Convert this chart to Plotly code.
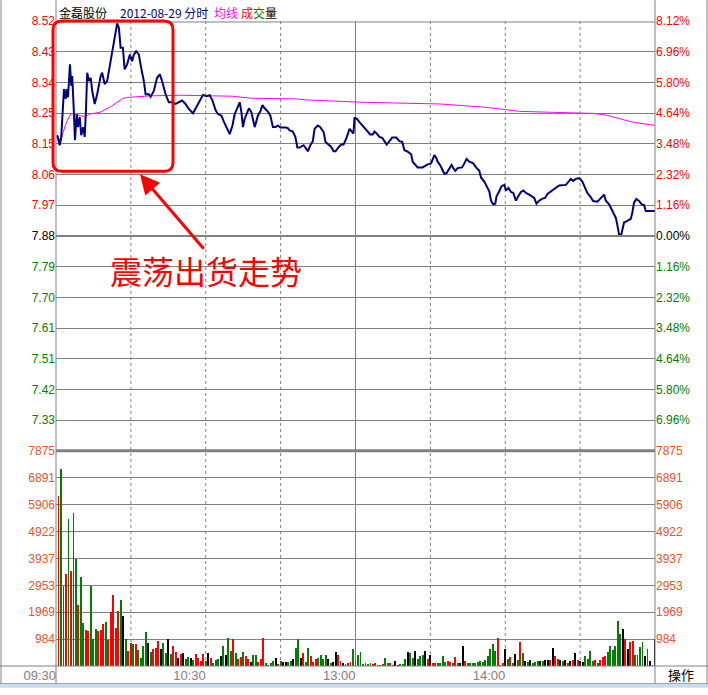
import plotly.graph_objects as go

# ---------------- data ----------------
stock_name = "金磊股份"
trade_date = "2012-08-29"
prev_close = 7.88
max_price = 8.52

price_tick_labels = ["8.52", "8.43", "8.34", "8.25", "8.15", "8.06", "7.97", "7.88",
                     "7.79", "7.70", "7.61", "7.51", "7.42", "7.33"]
pct_tick_labels = ["8.12%", "6.96%", "5.80%", "4.64%", "3.48%", "2.32%", "1.16%", "0.00%",
                   "1.16%", "2.32%", "3.48%", "4.64%", "5.80%", "6.96%"]
vol_tick_vals = [7875, 6891, 5906, 4922, 3937, 2953, 1969, 984]
vol_tick_labels = ["7875", "6891", "5906", "4922", "3937", "2953", "1969", "984"]
time_tick_mins = [0, 60, 120, 180]
time_tick_labels = ["09:30", "10:30", "13:00", "14:00"]
grid_mins_dotted = [30, 60, 90, 150, 180, 210]
grid_min_solid = [120]

# minute index (0 = 09:30, 120 = 11:30/13:00, 240 = 15:00) and price
price_min = [0.5, 1.5, 2.1, 2.5, 3.2, 3.9, 4.3, 4.8, 5.6, 6.1, 6.5, 7.2, 7.6, 8.3, 8.8, 9.5, 10.1, 10.9, 11.5, 12.0,
             12.5, 13.2, 13.9, 14.5, 15.5, 16.5, 17.9, 18.5, 19.5, 20.5, 21.2, 21.9, 22.9, 23.9, 24.5, 25.2, 25.9, 26.8,
             27.5, 28.5, 29.6, 30.5, 31.2, 32.1, 33.2, 34.1, 35.2, 35.9, 37.2, 37.9, 39.2, 40.5, 41.6, 42.5, 43.9, 45.2,
             46.5, 47.9, 49.6, 50.5, 51.9, 53.2, 54.9, 56.5, 57.9, 58.9, 60.3, 61.6, 62.7, 64.0, 64.9, 66.3, 67.2, 68.3,
             69.6, 70.7, 71.6, 72.5, 73.6, 74.3, 74.9, 75.6, 76.3, 77.3, 78.3, 79.6, 80.9, 82.0, 82.7, 83.6, 84.9, 85.9,
             86.9, 88.0, 88.9, 89.9, 92.0, 92.9, 93.6, 94.9, 95.9, 96.7, 97.6, 99.2, 100.0, 100.9, 101.9, 102.9, 103.6,
             104.9, 105.9, 107.2, 108.0, 108.9, 110.3, 111.2, 112.0, 113.3, 114.3, 115.2, 116.3, 117.6, 118.5, 119.2,
             119.6, 120.5, 121.6, 122.7, 124.0, 124.9, 125.9, 126.9, 127.6, 128.5, 129.6, 130.7, 131.6, 132.5, 133.6,
             134.7, 136.3, 137.6, 138.7, 139.6, 140.9, 142.3, 142.9, 144.0, 144.9, 146.9, 148.9, 150.3, 151.6, 152.3,
             152.9, 153.9, 154.9, 155.6, 156.5, 157.6, 158.5, 159.2, 160.0, 160.9, 162.7, 163.6, 164.5, 165.6, 167.2,
             168.3, 169.6, 170.3, 171.6, 172.9, 173.6, 174.3, 175.2, 176.0, 176.5, 177.6, 178.5, 179.6, 180.3, 181.3,
             182.3, 183.2, 184.3, 185.2, 186.3, 187.3, 188.3, 189.6, 190.9, 191.6, 192.5, 193.6, 194.9, 196.0, 196.9,
             198.3, 199.2, 200.5, 201.6, 204.3, 205.3, 206.3, 207.2, 208.3, 209.6, 210.9, 212.3, 212.9, 214.3, 215.2,
             216.9, 218.3, 219.6, 220.3, 221.6, 222.3, 223.2, 224.3, 224.9, 225.6, 226.5, 227.2, 227.6, 228.9, 230.3,
             230.9, 231.6, 232.5, 233.6, 234.7, 235.6, 236.3, 240.0]
price_val = [8.180, 8.150, 8.175, 8.243, 8.317, 8.288, 8.317, 8.293, 8.391, 8.327, 8.356, 8.243, 8.165, 8.243, 8.204,
             8.234, 8.180, 8.204, 8.175, 8.253, 8.366, 8.341, 8.351, 8.312, 8.273, 8.302, 8.356, 8.366, 8.332, 8.341,
             8.371, 8.405, 8.440, 8.479, 8.513, 8.499, 8.440, 8.440, 8.376, 8.391, 8.420, 8.400, 8.420, 8.430, 8.420,
             8.381, 8.341, 8.302, 8.302, 8.294, 8.312, 8.351, 8.361, 8.341, 8.302, 8.278, 8.278, 8.273, 8.281, 8.283,
             8.273, 8.258, 8.245, 8.268, 8.288, 8.300, 8.296, 8.299, 8.283, 8.253, 8.243, 8.238, 8.221, 8.201, 8.183,
             8.209, 8.243, 8.258, 8.278, 8.248, 8.204, 8.229, 8.243, 8.260, 8.248, 8.204, 8.238, 8.253, 8.270, 8.260,
             8.250, 8.238, 8.204, 8.204, 8.209, 8.203, 8.203, 8.201, 8.194, 8.191, 8.175, 8.143, 8.143, 8.150, 8.142,
             8.132, 8.150, 8.162, 8.199, 8.209, 8.204, 8.190, 8.160, 8.155, 8.145, 8.132, 8.132, 8.145, 8.152, 8.152,
             8.170, 8.199, 8.190, 8.185, 8.231, 8.229, 8.219, 8.209, 8.199, 8.191, 8.182, 8.182, 8.191, 8.185, 8.175,
             8.172, 8.162, 8.152, 8.162, 8.173, 8.173, 8.162, 8.160, 8.135, 8.131, 8.123, 8.101, 8.091, 8.084, 8.084,
             8.093, 8.096, 8.121, 8.113, 8.101, 8.091, 8.077, 8.065, 8.067, 8.082, 8.091, 8.082, 8.074, 8.082, 8.084,
             8.096, 8.109, 8.101, 8.096, 8.084, 8.074, 8.054, 8.042, 8.023, 8.013, 7.985, 7.974, 7.976, 7.998, 8.013,
             8.028, 8.032, 8.015, 8.023, 8.011, 8.008, 7.985, 7.998, 8.011, 8.015, 8.008, 8.003, 7.995, 7.993, 7.976,
             7.985, 7.991, 7.993, 8.005, 8.013, 8.018, 8.023, 8.030, 8.032, 8.042, 8.050, 8.044, 8.050, 8.052, 8.042,
             8.018, 8.008, 7.995, 7.984, 7.982, 7.993, 8.003, 7.985, 7.974, 7.964, 7.949, 7.934, 7.913, 7.884, 7.884,
             7.910, 7.920, 7.925, 7.931, 7.949, 7.979, 7.990, 7.984, 7.974, 7.972, 7.954, 7.954]

avg_min = [0.5, 1.9, 2.9, 4.3, 5.9, 7.2, 9.6, 11.6, 13.6, 17.6, 21.6, 24.3, 26.9, 29.6, 37.6, 49.6, 59.6, 70.6,
           78.3, 96.3, 100.3, 110.3, 122.9, 140.9, 153.6, 172.3, 185.6, 198.9, 214.9, 220.3, 225.6, 230.9, 240.0]
avg_val = [8.180, 8.160, 8.190, 8.220, 8.243, 8.245, 8.238, 8.236, 8.243, 8.248, 8.263, 8.278, 8.290, 8.293, 8.297,
           8.299, 8.298, 8.296, 8.290, 8.288, 8.285, 8.281, 8.278, 8.275, 8.273, 8.263, 8.251, 8.248, 8.245, 8.240,
           8.229, 8.219, 8.209]

# volume per minute (minute 1..240)
volume = [6245, 7210, 2935, 3358, 5380, 3477, 5620, 3935, 2250, 3260,
          1590, 1311, 1275, 2935, 1010, 1372, 1275, 1336, 1552, 1614,
          950, 1975, 2600, 1408, 2033, 2419, 1852, 1011, 552, 856,
          805, 805, 589, 289, 733, 1264, 866, 505, 614, 650,
          928, 614, 866, 469, 1011, 445, 733, 530, 289, 433,
          469, 253, 350, 289, 229, 433, 289, 205, 433, 205,
          469, 289, 108, 229, 253, 373, 746, 409, 1047, 554,
          1011, 469, 253, 350, 505, 373, 253, 169, 409, 409,
          144, 253, 1047, 108, 48, 132, 205, 289, 84, 205,
          169, 169, 169, 205, 253, 650, 1011, 289, 469, 169,
          650, 373, 169, 253, 289, 409, 253, 409, 253, 132,
          169, 505, 409, 205, 108, 72, 132, 169, 626, 205,
          409, 505, 84, 108, 84, 108, 84, 132, 48, 48,
          84, 313, 108, 108, 48, 205, 48, 72, 72, 253,
          530, 469, 289, 566, 253, 373, 409, 554, 253, 409,
          132, 132, 132, 132, 373, 169, 205, 169, 132, 325,
          132, 108, 734, 205, 120, 120, 120, 120, 144, 180,
          144, 217, 385, 626, 806, 565, 1023, 60, 120, 626,
          265, 337, 120, 445, 217, 878, 481, 180, 144, 217,
          120, 144, 180, 180, 180, 217, 217, 217, 662, 385,
          265, 217, 180, 217, 120, 180, 217, 481, 217, 180,
          144, 385, 265, 541, 180, 217, 120, 217, 337, 361,
          517, 746, 577, 746, 1660, 1167, 1347, 986, 626, 902,
          938, 421, 421, 698, 902, 361, 626, 180, 60, 986]
# direction of each minute: r = up (red), g = down (green), k = flat (black)
direction = list("rgrrgrggrg" "grrgggrrrg" "rrrrrgkgrr" "grggggkgrr" "rkggkgrrkr"
                 "kggkgrrrrg" "krgggkgkgg" "rgrrgrrkgg" "rrrggggkrg" "kkggkggkrg"
                 "grrrggggkg" "kkrrkrrrgr" "ggggggrrgg" "rggrrkkggg" "kggkgggkrk"
                 "rrggggrrgr" "gkkrgggggg" "ggggggrrrk" "grgkgrgkgk" "gggkgkkrkr"
                 "rkgkrkrkrk" "kggggrgrrr" "ggggggkrkr" "rggggkgkgk")

# ---------------- helpers ----------------
W, H = 708, 695
L, R, T, B = 56, 53, 21, 22
PW, PH = W - L - R, H - T - B


def px(x):
    return (x - L) / PW


def py(y):
    return (H - B - y) / PH


step = (max_price - prev_close) / 7
price_tick_vals = [prev_close + k * step for k in range(7, -7, -1)]
lo_price = prev_close - 7 * step

RED, GREEN, BLACK = "#FF0000", "#008000", "#000000"
left_text, right_text = [], []
for k, a, b in zip(range(7, -7, -1), price_tick_labels, pct_tick_labels):
    c = RED if k > 0 else (BLACK if k == 0 else GREEN)
    left_text.append(f"<span style='color:{c}'>{a}</span>")
    right_text.append(f"<span style='color:{c}'>{b}</span>")

col_map = {"r": RED, "g": GREEN, "k": BLACK}
bar_colors = [col_map[d] for d in direction]
vol_min = list(range(1, len(volume) + 1))

fig = go.Figure()
fig.add_trace(go.Bar(x=vol_min, y=volume, xaxis="x", yaxis="y2", width=0.38,
                     marker=dict(color=bar_colors, line=dict(width=0)), hoverinfo="skip"))
fig.add_trace(go.Scatter(x=avg_min, y=avg_val, xaxis="x", yaxis="y", mode="lines",
                         line=dict(color="#FF00FF", width=1), hoverinfo="skip"))
fig.add_trace(go.Scatter(x=price_min, y=price_val, xaxis="x", yaxis="y", mode="lines",
                         line=dict(color="#000080", width=2), hoverinfo="skip"))
fig.add_trace(go.Scatter(x=[0], y=[prev_close], xaxis="x", yaxis="y3", mode="markers",
                         marker=dict(opacity=0), hoverinfo="skip"))
fig.add_trace(go.Scatter(x=[0], y=[0], xaxis="x", yaxis="y4", mode="markers",
                         marker=dict(opacity=0), hoverinfo="skip"))

GRID = "#808080"
NUMFONT = dict(family="Liberation Sans, Arial, sans-serif", size=12)
VOLFONT = dict(family="Liberation Sans, Arial, sans-serif", size=12, color="#F05028")
dom_split = py(455.5)

fig.update_layout(
    width=W, height=H, margin=dict(l=L, r=R, t=T, b=B, pad=0),
    paper_bgcolor="white", plot_bgcolor="white", showlegend=False, bargap=0,
    xaxis=dict(range=[0, 240], anchor="y2", showgrid=False, zeroline=False, showline=False,
               tickvals=time_tick_mins, ticktext=time_tick_labels, ticks="", ticklabelposition="outside left",
               tickfont=dict(family="Liberation Sans, Arial, sans-serif", size=13, color="#808080")),
    yaxis=dict(domain=[dom_split, 1], range=[lo_price, max_price], tickvals=price_tick_vals, ticktext=left_text,
               showgrid=True, gridcolor=GRID, gridwidth=1, zeroline=False, showline=False, ticks="",
               tickfont=NUMFONT),
    yaxis3=dict(overlaying="y", side="right", range=[lo_price, max_price], tickvals=price_tick_vals,
                ticktext=right_text, showgrid=False, zeroline=False, showline=False, ticks="",
                tickfont=NUMFONT, anchor="x"),
    yaxis2=dict(domain=[0, dom_split], range=[0, 7875], tickvals=vol_tick_vals, ticktext=vol_tick_labels,
                showgrid=True, gridcolor=GRID, gridwidth=1, zeroline=False, showline=False, ticks="",
                tickfont=VOLFONT),
    yaxis4=dict(overlaying="y2", side="right", range=[0, 7875], tickvals=vol_tick_vals, ticktext=vol_tick_labels,
                showgrid=False, zeroline=False, showline=False, ticks="", anchor="x", tickfont=VOLFONT),
)

shapes = []
for m in grid_mins_dotted:
    shapes.append(dict(type="line", xref="x", yref="paper", x0=m, x1=m, y0=0, y1=1,
                       line=dict(color=GRID, width=1, dash="dot"), layer="below"))
for m in grid_min_solid:
    shapes.append(dict(type="line", xref="x", yref="paper", x0=m, x1=m, y0=0, y1=1,
                       line=dict(color=GRID, width=1), layer="below"))
shapes.append(dict(type="line", xref="paper", yref="y", x0=0, x1=1, y0=prev_close, y1=prev_close,
                   line=dict(color=GRID, width=2)))
shapes.append(dict(type="line", xref="paper", yref="paper", x0=0, x1=1, y0=dom_split, y1=dom_split,
                   line=dict(color=GRID, width=3)))
for xx in (56, 655, 1, 707):
    shapes.append(dict(type="line", xref="paper", yref="paper", x0=px(xx), x1=px(xx), y0=py(691), y1=py(0),
                       line=dict(color=GRID, width=1)))
for yy in (673, 691):
    shapes.append(dict(type="line", xref="paper", yref="paper", x0=px(0), x1=px(708), y0=py(yy), y1=py(yy),
                       line=dict(color=GRID, width=1)))
shapes.append(dict(type="line", xref="paper", yref="paper", x0=px(56), x1=px(655), y0=py(22), y1=py(22),
                   line=dict(color=GRID, width=1)))
shapes.append(dict(type="rect", xref="paper", yref="paper", x0=px(0), x1=px(708), y0=py(695), y1=py(692),
                   fillcolor="#C4DCF4", line=dict(width=0)))
bx0, bx1, by0, by1, r = 53, 173, 21, 173, 9
path = (f"M {px(bx0 + r)} {py(by0)} L {px(bx1 - r)} {py(by0)} Q {px(bx1)} {py(by0)} {px(bx1)} {py(by0 + r)} "
        f"L {px(bx1)} {py(by1 - r)} Q {px(bx1)} {py(by1)} {px(bx1 - r)} {py(by1)} "
        f"L {px(bx0 + r)} {py(by1)} Q {px(bx0)} {py(by1)} {px(bx0)} {py(by1 - r)} "
        f"L {px(bx0)} {py(by0 + r)} Q {px(bx0)} {py(by0)} {px(bx0 + r)} {py(by0)} Z")
shapes.append(dict(type="path", xref="paper", yref="paper", path=path, line=dict(color="#FF0000", width=3)))
fig.update_layout(shapes=shapes)

CJK = "Noto Sans CJK SC"
ann = [
    dict(x=px(57), y=py(12), text=stock_name, font=dict(family=CJK, size=12, color="black")),
    dict(x=px(118), y=py(12), text=f"{trade_date} 分时", font=dict(family=CJK, size=12, color="#000080")),
    dict(x=px(212), y=py(12), text="均线", font=dict(family=CJK, size=12, color="#FF00FF")),
    dict(x=px(239), y=py(12),
         text="<span style='color:#FF0000'>成</span><span style='color:#008000'>交</span>量",
         font=dict(family=CJK, size=12, color="black")),
]
for a in ann:
    a.update(xref="paper", yref="paper", xanchor="left", yanchor="middle", showarrow=False)
ann.append(dict(xref="paper", yref="paper", x=px(681), y=py(682), text="操作", showarrow=False,
                xanchor="center", yanchor="middle", font=dict(family=CJK, size=13, color="black")))
ann.append(dict(xref="paper", yref="paper", x=px(206), y=py(273), text="震荡出货走势", showarrow=False,
                xanchor="center", yanchor="middle", font=dict(family=CJK, size=32, color="#FF0000")))
ann.append(dict(xref="paper", yref="paper", x=px(140), y=py(176), ax=65, ay=76, text="", showarrow=True,
                arrowhead=2, arrowsize=1.3, arrowwidth=3, arrowcolor="#FF0000", standoff=0))
fig.update_layout(annotations=ann)

page_css = ("var s='margin:0;padding:0;overflow:hidden;width:708px;height:695px;';"
            "document.documentElement.style.cssText=s;document.body.style.cssText=s;")
fig.write_html("out.html", config={"displayModeBar": False}, post_script=page_css)
